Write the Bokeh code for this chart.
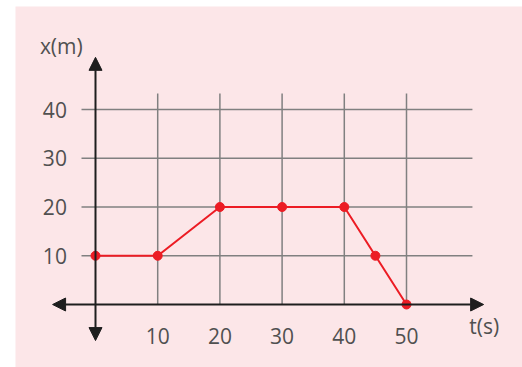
from bokeh.plotting import figure
from bokeh.models import Arrow, NormalHead, Range1d, ColumnDataSource
from bokeh.core.properties import value
from bokeh.embed import file_html
from bokeh.resources import INLINE

# data
t_values = [0, 10, 20, 30, 40, 45, 50]
x_values = [10, 10, 20, 20, 20, 10, 0]
x_ticks = [10, 20, 30, 40, 50]
y_ticks = [10, 20, 30, 40]
x_tick_labels = ["10", "20", "30", "40", "50"]
y_tick_labels = ["10", "20", "30", "40"]
x_axis_title = "t(s)"
y_axis_title = "x(m)"

PINK = "#fce6e8"
GRID = "#808080"
AXIS = "#1e1e1e"
RED = "#ec1c24"
TEXT = "#505050"
FONT = value("Open Sans")
FS = "21px"

W, H = 522, 367
LEFT, TOP = 15, 6
FW, FH = W - LEFT, H - TOP
xs = 6.22
ys = 4.875
x0 = -80 / xs
y1 = 298 / ys

p = figure(width=W, height=H, output_backend="svg", toolbar_location=None,
           x_range=Range1d(x0, x0 + FW / xs), y_range=Range1d(y1 - FH / ys, y1),
           min_border=0, min_border_left=LEFT, min_border_top=TOP,
           outline_line_color=None,
           background_fill_color=PINK, border_fill_color="white")
p.axis.visible = False
p.grid.visible = False

# grid lines
gx0, gx1 = -2.25, 60.6
p.segment(x0=[gx0] * len(y_ticks), x1=[gx1] * len(y_ticks), y0=y_ticks, y1=y_ticks,
          line_color=GRID, line_width=1.5)
p.segment(x0=x_ticks, x1=x_ticks, y0=[0] * len(x_ticks), y1=[43.3] * len(x_ticks),
          line_color=GRID, line_width=1.5)

# axes with arrows
def head():
    return NormalHead(size=13, fill_color=AXIS, line_color=AXIS, line_width=1)

p.add_layout(Arrow(x_start=-6.9, y_start=0, x_end=62.4, y_end=0,
                   start=head(), end=head(), line_color=AXIS, line_width=2))
p.add_layout(Arrow(x_start=0, y_start=-7.4, x_end=0, y_end=50.7,
                   start=head(), end=head(), line_color=AXIS, line_width=2))

# data line
src = ColumnDataSource(dict(t=t_values, x=x_values))
p.line("t", "x", source=src, line_color=RED, line_width=2)
p.scatter("t", "x", source=src, size=9, fill_color=RED, line_color=RED)

# tick labels
p.text(x=x_ticks, y=[-6.4] * len(x_ticks), text=x_tick_labels,
       text_align="center", text_baseline="middle", text_font=FONT,
       text_font_size=FS, text_color=TEXT)
p.text(x=[-4.6] * len(y_ticks), y=y_ticks, text=y_tick_labels,
       text_align="right", text_baseline="middle", text_font=FONT,
       text_font_size=FS, text_color=TEXT)

# axis titles
p.text(x=[62.5], y=[-4.5], text=[x_axis_title], text_align="center",
       text_baseline="middle", text_font=FONT, text_font_size=FS, text_color=TEXT)
p.text(x=[-5.5], y=[53.1], text=[y_axis_title], text_align="center",
       text_baseline="middle", text_font=FONT, text_font_size=FS, text_color=TEXT)

open("out.html", "w").write(file_html(p, INLINE))
